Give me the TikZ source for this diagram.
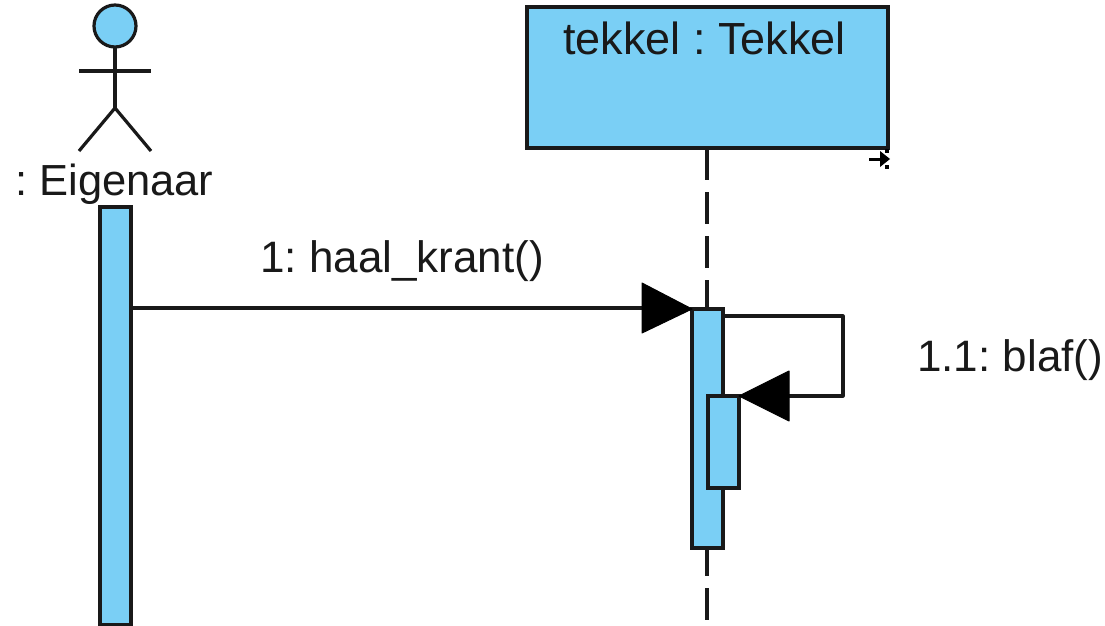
\documentclass[tikz,border=0pt]{standalone}
\usepackage{fontspec}
\setmainfont{Liberation Sans}
\definecolor{fillblue}{HTML}{7ACFF5}
\tikzset{
  line/.style={draw=black!90,line width=3.2pt},
  activation/.style={line,fill=fillblue,rectangle,inner sep=0pt,outer sep=0pt,anchor=north west},
  lbl/.style={font=\fontsize{44}{44}\selectfont\frenchspacing,text=black!90,inner sep=0pt,anchor=base west},
  solidhead/.style={fill=black,draw=black,line width=1pt,line join=round},
}
\begin{document}
\begin{tikzpicture}[x=1pt,y=-1pt]
\useasboundingbox (0,0) rectangle (1105,626);
% lifeline
\coordinate (lifetop) at (707,148);
\coordinate (lifebot) at (707,620);
\draw[line,dash pattern=on 32pt off 12pt] (lifetop) -- (lifebot);
% actor
\node[line,fill=fillblue,circle,minimum size=42pt,inner sep=0pt,outer sep=0pt] (head) at (115,26) {};
\coordinate (hip) at (115,108);
\coordinate (armL) at (79,71);
\coordinate (armR) at (151,71);
\coordinate (legL) at (79,151);
\coordinate (legR) at (151,151);
\draw[line] (head.south) -- (hip);
\draw[line] (armL) -- (armR);
\draw[line] (legL) -- (hip) -- (legR);
\node[lbl,font=\fontsize{43.5}{44}\selectfont\frenchspacing] (actorlabel) at (15,195.5) {: Eigenaar};
% object box
\node[activation,minimum width=361pt,minimum height=141pt] (box) at (527,7) {};
\node[lbl,font=\fontsize{45}{45}\selectfont\frenchspacing] (boxlabel) at (563,55) {tekkel : Tekkel};
% activations
\node[activation,minimum width=31pt,minimum height=418pt] (a1) at (100,207) {};
\node[activation,minimum width=31pt,minimum height=239pt] (a2) at (692,309) {};
\node[activation,minimum width=31pt,minimum height=92pt] (a3) at (708,396) {};
% messages
\coordinate (m1tail) at (a1.east |- 0,308);
\coordinate (m1tip) at (a2.north west);
\coordinate (m1base) at (642,308);
\draw[line] (m1tail) -- (m1base);
\draw[solidhead] (m1tip) -- (642,283) -- (642,333) -- cycle;
\node[lbl] (m1label) at (260,272) {1: haal\_krant()};
\coordinate (m2a) at (a2.east |- 0,316);
\coordinate (m2b) at (843,316);
\coordinate (m2c) at (843,396);
\coordinate (m2tip) at (a3.north east);
\draw[line,line join=round] (m2a) -- (m2b) -- (m2c) -- (789,396);
\draw[solidhead] (m2tip) -- (789,371) -- (789,421) -- cycle;
\node[lbl] (m2label) at (917,371) {1.1: blaf()};
% cursor
\draw[black,line width=3pt] (869,159) -- (884,159);
\fill[black] (890,159) -- (880,151) -- (880,167) -- cycle;
\fill[black] (885,149) rectangle (889,153);
\fill[black] (885,165) rectangle (889,169);
\end{tikzpicture}
\end{document}
